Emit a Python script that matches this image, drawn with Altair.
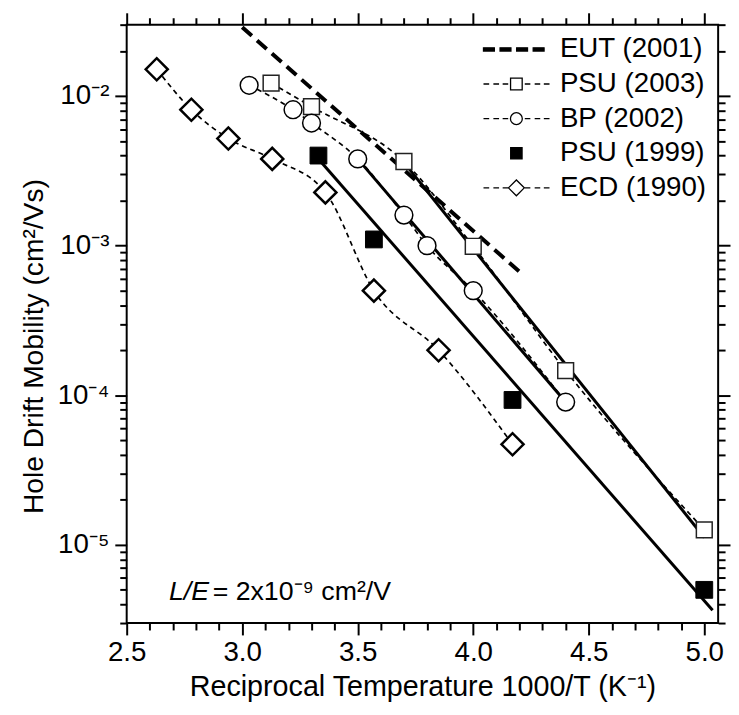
import altair as alt
import pandas as pd

# ---------------- data ----------------
series_names = ["EUT (2001)", "PSU (2003)", "BP (2002)", "PSU (1999)", "ECD (1990)"]

eut_x = [3.00, 4.20]
eut_y = [0.0288, 6.7e-4]

psu03_x = [3.125, 3.30, 3.70, 4.00, 4.40, 5.00]
psu03_y = [0.0122, 0.0085, 0.00365, 0.00099, 1.46e-4, 1.26e-5]
psu03_fit_x = [3.70, 5.00]
psu03_fit_y = [0.0036, 1.12e-5]

bp_x = [3.03, 3.22, 3.30, 3.50, 3.70, 3.80, 4.00, 4.40]
bp_y = [0.0118, 0.0081, 0.0066, 0.0038, 0.0016, 0.0010, 5.0e-4, 9.0e-5]
bp_fit_x = [3.50, 4.40]
bp_fit_y = [0.0038, 9.0e-5]

psu99_x = [3.33, 3.57, 4.17, 5.00]
psu99_y = [0.0040, 0.0011, 9.3e-5, 5.0e-6]
psu99_fit_x = [3.33, 5.036]
psu99_fit_y = [0.0038, 3.65e-6]

ecd_x = [2.63, 2.78, 2.94, 3.13, 3.36, 3.57, 3.85, 4.17]
ecd_y = [0.0151, 0.0081, 0.0052, 0.0038, 0.00227, 5.0e-4, 2.0e-4, 4.7e-5]

note_italic = ["L/E"]
note_rest = ["= 2x10\u207b\u2079 cm\u00b2/V"]
note_x = [2.683, 2.872]
note_y = [4.3e-6, 4.3e-6]

x_domain = [2.5, 5.06]
y_domain = [3e-6, 3e-2]
x_major = [2.5, 3.0, 3.5, 4.0, 4.5, 5.0]
x_minor = [2.6, 2.7, 2.8, 2.9, 3.1, 3.2, 3.3, 3.4, 3.6, 3.7, 3.8, 3.9,
           4.1, 4.2, 4.3, 4.4, 4.6, 4.7, 4.8, 4.9]
y_major = [1e-2, 1e-3, 1e-4, 1e-5]
y_minor = [3e-6, 4e-6, 5e-6, 6e-6, 7e-6, 8e-6, 9e-6,
           2e-5, 3e-5, 4e-5, 5e-5, 6e-5, 7e-5, 8e-5, 9e-5,
           2e-4, 3e-4, 4e-4, 5e-4, 6e-4, 7e-4, 8e-4, 9e-4,
           2e-3, 3e-3, 4e-3, 5e-3, 6e-3, 7e-3, 8e-3, 9e-3,
           2e-2, 3e-2]

# legend symbols (custom paths) and fills
dash_thin = "M-2.66,0H-2.2M-1.86,0H-1.4M-1.11,0H-0.66M0.68,0H1.13M1.48,0H1.93M2.22,0H2.68"
legend_paths = [
    "M-2.66,-0.13H-1.78V0.13H-2.66ZM-1.32,-0.13H-0.44V0.13H-1.32Z"
    "M0.02,-0.13H0.9V0.13H0.02ZM1.36,-0.13H2.24V0.13H1.36Z",
    dash_thin + "M-0.47,-0.47H0.47V0.47H-0.47Z",
    dash_thin + "M-0.48,0A0.48,0.48,0,1,0,0.48,0A0.48,0.48,0,1,0,-0.48,0Z",
    "M-0.46,-0.46H0.46V0.46H-0.46Z",
    dash_thin + "M-0.64,0L0,-0.64L0.64,0L0,0.64Z",
]
legend_fills = ["black", "white", "white", "black", "white"]
legend_strokes = ["black", "black", "black", "black", "black"]

FONT = "Liberation Sans"


def frame(xs, ys, name):
    return pd.DataFrame({"x": xs, "y": ys, "series": name})


eut = frame(eut_x, eut_y, series_names[0])
psu03 = frame(psu03_x, psu03_y, series_names[1])
psu03_fit = frame(psu03_fit_x, psu03_fit_y, series_names[1])
bp = frame(bp_x, bp_y, series_names[2])
bp_fit = frame(bp_fit_x, bp_fit_y, series_names[2])
psu99 = frame(psu99_x, psu99_y, series_names[3])
psu99_fit = frame(psu99_fit_x, psu99_fit_y, series_names[3])
ecd = frame(ecd_x, ecd_y, series_names[4])
all_rows = pd.concat([eut, psu03, bp, psu99, ecd], ignore_index=True)
notes = pd.DataFrame({"x": note_x, "y": note_y,
                      "text": note_italic + note_rest,
                      "style": ["italic", "normal"]})

x_scale = alt.Scale(domain=x_domain, nice=False, zero=False)
y_scale = alt.Scale(type="log", domain=y_domain, nice=False)


def X(axis=None):
    return alt.X("x:Q", scale=x_scale, axis=axis)


def Y(axis=None):
    return alt.Y("y:Q", scale=y_scale, axis=axis)


# ---------------- data layers ----------------
dashed = [
    alt.Chart(d).mark_line(color="black", strokeWidth=1.7, strokeDash=[5, 4],
                           interpolate="monotone").encode(x=X(), y=Y())
    for d in (psu03, bp, ecd)
]
eut_line = alt.Chart(eut).mark_line(color="black", strokeWidth=4,
                                    strokeDash=[13, 7]).encode(x=X(), y=Y())
fits = [
    alt.Chart(d).mark_line(color="black", strokeWidth=3).encode(x=X(), y=Y())
    for d in (psu03_fit, bp_fit, psu99_fit)
]
pts_psu03 = alt.Chart(psu03).mark_point(shape="square", size=256, filled=True,
                                        fill="white", stroke="#222", strokeWidth=1.5,
                                        opacity=1).encode(x=X(), y=Y())
pts_bp = alt.Chart(bp).mark_point(shape="circle", size=324, filled=True,
                                  fill="white", stroke="black", strokeWidth=1.5,
                                  opacity=1).encode(x=X(), y=Y())
pts_psu99 = alt.Chart(psu99).mark_point(shape="square", size=289, filled=True,
                                        fill="black", stroke="black", strokeWidth=1,
                                        opacity=1).encode(x=X(), y=Y())
pts_ecd = alt.Chart(ecd).mark_point(shape="diamond", size=500, filled=True,
                                    fill="white", stroke="black", strokeWidth=2.5,
                                    opacity=1).encode(x=X(), y=Y())

legend_kw = dict(orient="none", legendX=380, legendY=11, title=None,
                 symbolSize=625, symbolStrokeWidth=1.3,
                 symbolOpacity=1, labelFont=FONT, labelFontSize=28, labelColor="black",
                 labelOffset=30, rowPadding=7, padding=0, labelLimit=400, symbolOffset=0)
legend_layer = alt.Chart(all_rows).mark_point(filled=True, opacity=0).encode(
    x=X(), y=Y(),
    color=alt.Color("series:N", scale=alt.Scale(domain=series_names, range=legend_fills),
                    legend=alt.Legend(**legend_kw)),
    stroke=alt.Stroke("series:N", scale=alt.Scale(domain=series_names, range=legend_strokes),
                      legend=alt.Legend(**legend_kw)),
    shape=alt.Shape("series:N", scale=alt.Scale(domain=series_names, range=legend_paths),
                    legend=alt.Legend(**legend_kw)),
)

note_layers = [
    alt.Chart(notes).transform_filter(alt.datum.style == s).mark_text(
        font=FONT, fontSize=27, fontStyle=s, align="left", baseline="alphabetic",
        color="black").encode(x=X(), y=Y(), text="text:N")
    for s in ("italic", "normal")
]

# ---------------- axis layers (major / minor ticks on all four sides) ----------------
ylab = ("datum.value > 0.005 ? '10\u207b\u00b2' : datum.value > 0.0005 ? '10\u207b\u00b3' : "
        "datum.value > 0.00005 ? '10\u207b\u2074' : '10\u207b\u2075'")

common = dict(grid=False, domain=False, tickColor="black", labelColor="black",
              labelFont=FONT, titleFont=FONT, titleColor="black", titleFontWeight="normal",
              labelFlush=False)

ax_bottom = alt.Axis(orient="bottom", values=x_major, format=".1f", tickSize=12, tickWidth=2,
                     labelFontSize=28, labelPadding=4,
                     title="Reciprocal Temperature 1000/T (K\u207b\u00b9)", titleFontSize=29,
                     titleY=73, titleBaseline="alphabetic", **common)
ax_left = alt.Axis(orient="left", values=y_major, labelExpr=ylab, tickSize=12, tickWidth=2,
                   labelFontSize=28, labelPadding=6,
                   title="Hole Drift Mobility (cm\u00b2/Vs)", titleFontSize=28.5, titleLimit=1000,
                   titleX=-85, titleY=325, titleBaseline="alphabetic", **common)
ax_bottom_m = alt.Axis(orient="bottom", values=x_minor, labels=False, tickSize=7, tickWidth=2,
                       title=None, **common)
ax_left_m = alt.Axis(orient="left", values=y_minor, labels=False, tickSize=7, tickWidth=2,
                     title=None, **common)
ax_top = alt.Axis(orient="top", values=x_major, labels=False, tickSize=12, tickWidth=2,
                  title=None, **common)
ax_right = alt.Axis(orient="right", values=y_major, labels=False, tickSize=12, tickWidth=2,
                    title=None, **common)
ax_top_m = alt.Axis(orient="top", values=x_minor, labels=False, tickSize=7, tickWidth=2,
                    title=None, **common)
ax_right_m = alt.Axis(orient="right", values=y_minor, labels=False, tickSize=7, tickWidth=2,
                      title=None, **common)

axis_layers = [
    alt.Chart(all_rows).mark_point(opacity=0).encode(x=X(a), y=Y(b))
    for a, b in ((ax_bottom, ax_left), (ax_bottom_m, ax_left_m),
                 (ax_top, ax_right), (ax_top_m, ax_right_m))
]

chart = alt.layer(
    *axis_layers, *dashed, eut_line, *fits, pts_psu03, pts_bp, pts_psu99, pts_ecd,
    legend_layer, *note_layers,
).resolve_axis(x="independent", y="independent").properties(
    width=598, height=605,
    autosize=alt.AutoSizeParams(type="none"),
    padding={"left": 120, "top": 13, "right": 13, "bottom": 78},
).configure_view(stroke="black", strokeWidth=2)

chart.save("out.html", embed_options={"renderer": "svg", "actions": False})
